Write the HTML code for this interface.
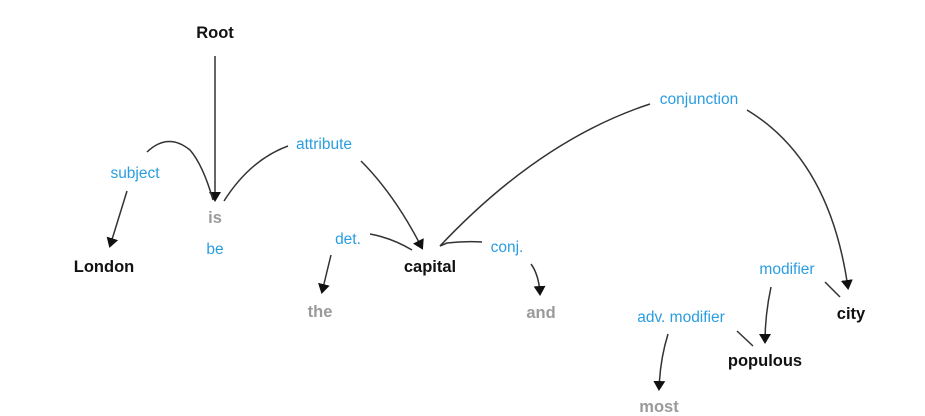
<!DOCTYPE html>
<html><head><meta charset="utf-8"><style>
html,body{margin:0;padding:0;background:#fff;}
svg{display:block;}
text{font-family:"Liberation Sans","DejaVu Sans",sans-serif;text-anchor:middle;}
.w{font-weight:bold;font-size:16.5px;fill:#111;}
.g{font-weight:bold;font-size:16.5px;fill:#9a9a9a;}
.b{font-size:15.5px;fill:#2a9de0;}
path,line{stroke:#333;stroke-width:1.5;fill:none;}
</style></head><body>
<svg width="925" height="416" viewBox="0 0 925 416" xmlns="http://www.w3.org/2000/svg">
<defs><marker id="a" markerWidth="10" markerHeight="12" refX="8" refY="6" orient="auto" markerUnits="userSpaceOnUse"><path d="M0,0 L10,6 L0,12 z" style="fill:#111;stroke:none"/></marker></defs>
<text class="w" x="215" y="38">Root</text>
<line x1="215" y1="56" x2="215" y2="200" marker-end="url(#a)"/>
<text class="b" x="135" y="178">subject</text>
<path d="M147,152 Q168,132 190,150 Q203,165 213,200"/>
<line x1="127" y1="191" x2="110" y2="246" marker-end="url(#a)"/>
<text class="w" x="104" y="272">London</text>
<text class="g" x="215" y="223">is</text>
<text class="b" x="215" y="254">be</text>
<text class="b" x="324" y="149">attribute</text>
<path d="M224,201 Q250,160 288,146"/>
<path d="M361,161 Q395,195 422,248" marker-end="url(#a)"/>
<text class="b" x="348" y="244">det.</text>
<path d="M370,234 Q392,238 412,250"/>
<line x1="331" y1="255" x2="322" y2="292" marker-end="url(#a)"/>
<text class="w" x="430" y="272">capital</text>
<text class="g" x="320" y="317">the</text>
<text class="b" x="507" y="252">conj.</text>
<path d="M440,246 L447,243 Q465,241 482,242"/>
<path d="M440,246 Q540,140 650,104"/>
<path d="M531,264 Q539,275 540,294" marker-end="url(#a)"/>
<text class="g" x="541" y="318">and</text>
<text class="b" x="699" y="104">conjunction</text>
<path d="M747,110 Q830,160 848,288" marker-end="url(#a)"/>
<text class="w" x="851" y="319">city</text>
<text class="b" x="787" y="274">modifier</text>
<line x1="825" y1="282" x2="840" y2="297"/>
<path d="M771,287 Q765,315 765,342" marker-end="url(#a)"/>
<text class="w" x="765" y="366">populous</text>
<text class="b" x="681" y="322">adv. modifier</text>
<line x1="737" y1="331" x2="753" y2="346"/>
<path d="M668,334 Q660,360 659,389" marker-end="url(#a)"/>
<text class="g" x="659" y="412">most</text>
</svg>
</body></html>
